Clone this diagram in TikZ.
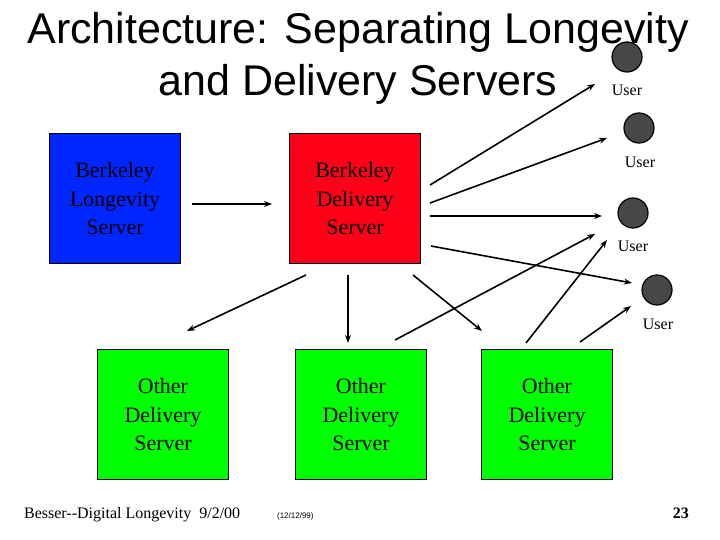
\documentclass[tikz,border=0pt]{standalone}
\usepackage{fontspec}
\setmainfont{Liberation Serif}
\newfontfamily\arial{Liberation Sans}
\usetikzlibrary{arrows.meta}

\begin{document}
\begin{tikzpicture}[x=1pt,y=-1pt,>={Stealth[length=8pt,width=6pt]},line width=1.6pt]
  \tikzstyle{server}=[draw=black,line width=1pt,minimum width=131pt,minimum height=130pt,inner sep=0pt,
    align=center,font=\fontsize{22}{28.5}\selectfont,anchor=north west]
  \tikzstyle{user}=[circle,draw=black,fill=black!72,minimum size=30pt,inner sep=0pt,line width=1.2pt]
  \tikzstyle{ulabel}=[font=\fontsize{16}{18}\selectfont]
  \useasboundingbox (0,0) rectangle (720,540);

  \node[font=\arial\fontsize{43}{52}\selectfont,align=center] (title) at (358,58)
    {Architecture: Separating Longevity\\and Delivery Servers};

  \node[server,fill=blue!85!cyan] (L) at (49,133) {Berkeley\\Longevity\\Server};
  \node[server,fill=red!90!magenta] (D) at (289,133) {Berkeley\\Delivery\\Server};
  \node[server,fill=green] (O_1) at (97,349) {Other\\Delivery\\Server};
  \node[server,fill=green] (O_2) at (295,349) {Other\\Delivery\\Server};
  \node[server,fill=green] (O_3) at (481,349) {Other\\Delivery\\Server};

  \node[user] (U_1) at (627,57) {};
  \node[user] (U_2) at (639,128) {};
  \node[user] (U_3) at (633,213) {};
  \node[user] (U_4) at (657,290) {};
  \node[ulabel] (N_1) at (627,90) {User};
  \node[ulabel] (N_2) at (640,162) {User};
  \node[ulabel] (N_3) at (633,246) {User};
  \node[ulabel] (N_4) at (658,324) {User};

  % arrow ends
  \coordinate (s_0) at (192,204);  \coordinate (t_0) at (272,204);
  \coordinate (s_1) at (430,185);  \coordinate (a_1) at (595,84);
  \coordinate (s_2) at (430,203);  \coordinate (a_2) at (607,138);
  \coordinate (s_3) at (430,216);  \coordinate (a_3) at (602,216);
  \coordinate (s_4) at (431,246);  \coordinate (a_4) at (632,283);
  \coordinate (s_5) at (306,275);  \coordinate (t_5) at (187,331);
  \coordinate (s_6) at (348,275);  \coordinate (t_6) at (348,343);
  \coordinate (s_7) at (413,275);  \coordinate (t_7) at (482,331);
  \coordinate (s_8) at (395,340);  \coordinate (a_5) at (595,234);
  \coordinate (s_9) at (526,343);  \coordinate (a_6) at (607,240);
  \coordinate (s_10) at (580,342); \coordinate (a_7) at (631,306);

  \draw[->] (s_0) -- (t_0);
  \draw[->] (s_1) -- (a_1);
  \draw[->] (s_2) -- (a_2);
  \draw[->] (s_3) -- (a_3);
  \draw[->] (s_4) -- (a_4);
  \draw[->] (s_5) -- (t_5);
  \draw[->] (s_6) -- (t_6);
  \draw[->] (s_7) -- (t_7);
  \draw[->] (s_8) -- (a_5);
  \draw[->] (s_9) -- (a_6);
  \draw[->] (s_10) -- (a_7);

  \node[anchor=base west,font=\fontsize{16}{18}\selectfont] (foot) at (20,518)
    {Besser{-}{-}Digital Longevity\ \ 9/2/00};
  \node[anchor=base west,font=\arial\fontsize{8}{10}\selectfont] (date) at (273,518) {(12/12/99)};
  \node[anchor=base east,font=\bfseries\fontsize{16}{18}\selectfont] (page) at (693,518) {23};
\end{tikzpicture}
\end{document}
